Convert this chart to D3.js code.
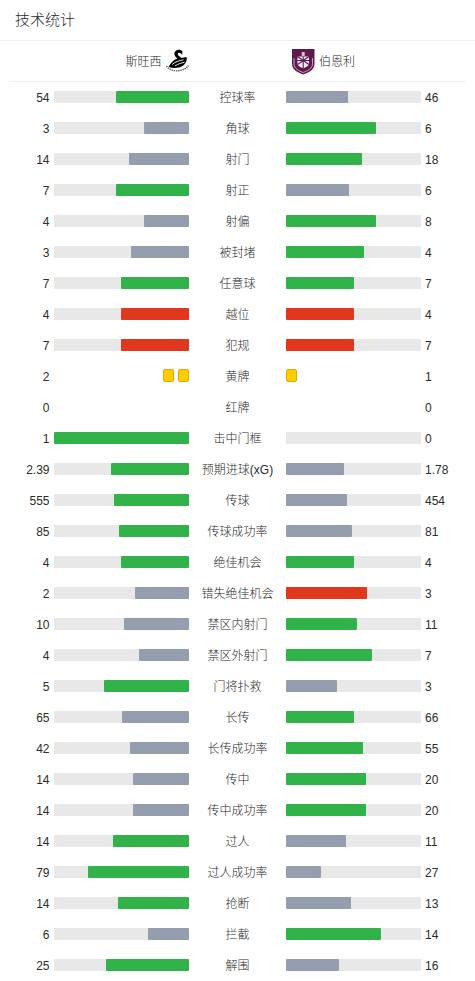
<!DOCTYPE html>
<html><head><meta charset="utf-8">
<script src="https://cdn.jsdelivr.net/npm/d3@7/dist/d3.min.js"></script>
<style>html,body{margin:0;padding:0;background:#fff}svg{display:block;font-family:"Liberation Sans","Noto Sans CJK SC",sans-serif}</style>
</head><body><div id="c"></div>
<script>
const title = "技术统计";
const homeTeam = "斯旺西", awayTeam = "伯恩利";
const categories = ["控球率","角球","射门","射正","射偏","被封堵","任意球","越位","犯规","黄牌","红牌","击中门框","预期进球(xG)","传球","传球成功率","绝佳机会","错失绝佳机会","禁区内射门","禁区外射门","门将扑救","长传","长传成功率","传中","传中成功率","过人","过人成功率","抢断","拦截","解围"];
const homeValues = [54,3,14,7,4,3,7,4,7,2,0,1,2.39,555,85,4,2,10,4,5,65,42,14,14,14,79,14,6,25];
const awayValues = [46,6,18,6,8,4,7,4,7,1,0,0,1.78,454,81,4,3,11,7,3,66,55,20,20,11,27,13,14,16];
const cardRows = ["黄牌","红牌"];
const negativeRows = ["越位","犯规","错失绝佳机会"];
const C = {green:"#32b34a",grey:"#959eae",red:"#e0381c",track:"#e8e8e8",text:"#2b2b2b",line:"#f0f0f0",card:"#ffcc00",cardEdge:"#e8a800"};

const W=475,H=981;
const svg=d3.select("#c").append("svg").attr("width",W).attr("height",H);
svg.append("text").attr("x",15).attr("y",25).attr("font-size",15).attr("font-weight",300).attr("fill",C.text).text(title);
svg.append("line").attr("x1",0).attr("x2",W).attr("y1",40.5).attr("y2",40.5).attr("stroke",C.line);
svg.append("line").attr("x1",10).attr("x2",466).attr("y1",81.5).attr("y2",81.5).attr("stroke",C.line);
svg.append("text").attr("x",161.5).attr("y",65.5).attr("text-anchor","end").attr("font-size",12).attr("font-weight",300).attr("fill",C.text).text(homeTeam);
svg.append("text").attr("x",319).attr("y",65.5).attr("font-size",12).attr("font-weight",300).attr("fill",C.text).text(awayTeam);

// Swansea badge
const sw=svg.append("g").attr("transform","translate(166,49)");
sw.append("path").attr("fill","#000").attr("d","M8.5 3.5C9.5 0.3 14.5 -0.5 16.5 2.5L16 6C15 3.8 12.5 3 11.8 4.8C11.2 6.5 14.5 7.5 15.5 9L20.5 8C21.5 11.5 19.5 15.5 15.5 17.5C11.5 19.5 6.5 19 2.5 18C4.5 14.5 7.5 10.5 11.5 9.5C9.5 8 7.8 6 8.5 3.5Z");
sw.append("path").attr("fill","none").attr("stroke","#fff").attr("stroke-width",.9).attr("d","M6 15.5C9 13 13 11.5 17.5 10.8M9 17C12 15 15 14 18.5 13.2");
sw.append("path").attr("fill","none").attr("stroke","#555").attr("stroke-width",1.3).attr("stroke-dasharray","1.4 .8").attr("d","M0.5 17C3.5 23 17 24 22.5 16.5");
// Burnley badge
const bu=svg.append("g").attr("transform","translate(292,49)");
bu.append("path").attr("fill","#5e1a4f").attr("d","M0 0H22.5V15C22.5 21 16 24 11.2 25.5C6.5 24 0 21 0 15Z");
bu.append("path").attr("fill","none").attr("stroke","#d9c9d4").attr("stroke-width",.8).attr("d","M2 9V15C2 19.5 7 22 11.2 23.5C15.5 22 20.5 19.5 20.5 15V9");
bu.append("path").attr("fill","#f3ecf1").attr("d","M5.5 7.5H17V15.5C15.5 18 13 18.7 11.2 19.2C9.5 18.7 7 18 5.5 15.5Z");
bu.append("path").attr("fill","none").attr("stroke","#5e1a4f").attr("stroke-width",1.1).attr("d","M5.5 7.5L17 15.5M17 7.5L5.5 15.5M11.2 7.5V19M5.5 11.5H17");
bu.append("rect").attr("x",9.7).attr("y",3).attr("width",3).attr("height",4).attr("fill","#d9c2d2");

const rows=categories.map((name,i)=>({name,home:homeValues[i],away:awayValues[i]}));
const y=d3.scaleBand().domain(categories).range([81.5,81.5+31*categories.length]);
const share=d3.scaleLinear().domain([0,1]).range([0,135.5]);
const L=189,R=286;
const colour=(d,mine,other)=>(mine>=other)?(negativeRows.includes(d.name)?C.red:C.green):C.grey;
const frac=(a,b)=>a+b===0?0:a/(a+b);
const homeEdge=d=>d.away===0?L-135:Math.round(188.75-share(frac(d.home,d.away)));
const awayEdge=d=>d.home===0?R+135:Math.round(R+.15+share(frac(d.away,d.home)));

const g=svg.selectAll("g.row").data(rows).join("g").attr("class","row").attr("transform",d=>`translate(0,${y(d.name)+y.bandwidth()/2})`);
const labels=[
  {x:49.5,anchor:"end",get:d=>d.home},
  {x:425,anchor:"start",get:d=>d.away},
  {x:237.5,anchor:"middle",get:d=>d.name}
];
labels.forEach(l=>g.append("text").attr("x",l.x).attr("y",4.5).attr("text-anchor",l.anchor).attr("font-size",12).attr("font-weight",300).attr("fill",C.text).text(l.get));

const bars=g.filter(d=>!cardRows.includes(d.name));
bars.append("rect").attr("x",L-135).attr("y",-6).attr("width",135).attr("height",12).attr("fill",C.track);
bars.append("rect").attr("x",R).attr("y",-6).attr("width",135).attr("height",12).attr("fill",C.track);
bars.filter(d=>d.home>0).append("rect").attr("x",homeEdge).attr("y",-6).attr("width",d=>L-homeEdge(d)).attr("height",12).attr("rx",1).attr("fill",d=>colour(d,d.home,d.away));
bars.filter(d=>d.away>0).append("rect").attr("x",R).attr("y",-6).attr("width",d=>awayEdge(d)-R).attr("height",12).attr("rx",1).attr("fill",d=>colour(d,d.away,d.home));

g.filter(d=>cardRows.includes(d.name)).each(function(d){
  const s=d3.select(this);
  const card=x=>s.append("rect").attr("x",x+.5).attr("y",-6.5).attr("width",10).attr("height",12).attr("rx",1.5).attr("fill",C.card).attr("stroke",C.cardEdge).attr("stroke-width",1);
  d3.range(d.home).forEach(i=>card(L-11-15*i));
  d3.range(d.away).forEach(i=>card(R+15*i));
});
</script></body></html>
